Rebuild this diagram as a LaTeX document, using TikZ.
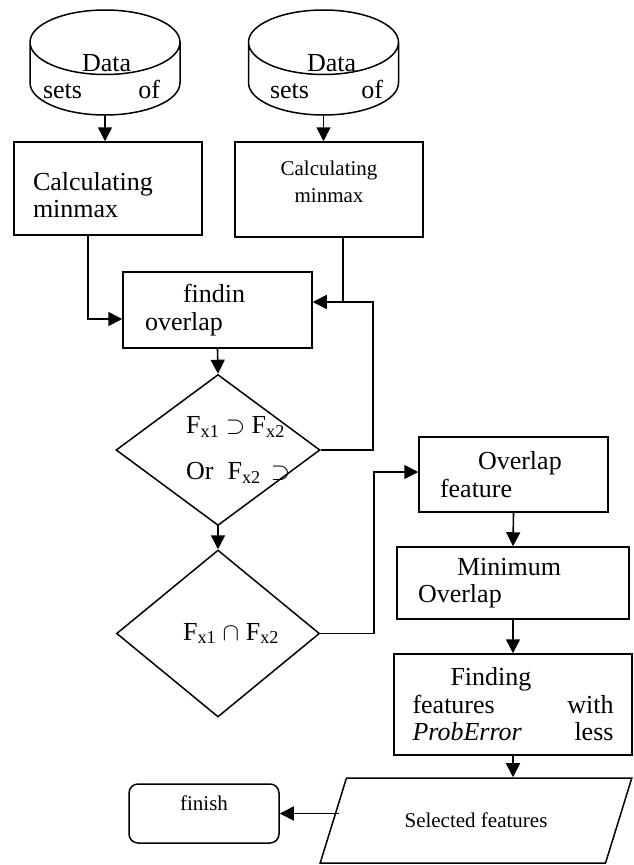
\documentclass[tikz,border=0pt]{standalone}
\usepackage{fontspec}
\setmainfont{Liberation Serif}
\usetikzlibrary{arrows.meta, positioning, shapes.geometric, calc}
\newcommand{\bigtxt}{\fontsize{26}{27.5}\selectfont}
\newcommand{\smalltxt}{\fontsize{21}{27}\selectfont}
\tikzset{
    box/.style={
        draw,
        line width=1.5pt,
        minimum width=188pt,
        minimum height=93pt,
        inner sep=0pt,
        font=\bigtxt
    },
    datastore/.style={
        cylinder,
        shape border rotate=90,
        draw,
        line width=1.5pt,
        aspect=0.43,
        minimum height=105pt,
        minimum width=150pt,
        inner xsep=75pt,
        inner ysep=0pt,
        anchor=shape center
    },
    decision/.style={diamond, draw, line width=1.5pt, inner sep=0pt},
    io/.style={trapezium, trapezium left angle=46, trapezium right angle=134, trapezium stretches=true, draw, line width=1.5pt, minimum width=312pt, minimum height=85pt, inner sep=0pt, font=\smalltxt},
    term/.style={draw, rounded corners=9pt, line width=1.5pt, minimum width=150pt, minimum height=59pt, inner sep=0pt, font=\smalltxt},
    lbl/.style={inner sep=0pt, font=\bigtxt, align=left},
    line/.style={-{Triangle[length=14pt, width=14pt]}, line width=1.6pt},
    link/.style={line width=1.6pt}
}
\begin{document}
\begin{tikzpicture}[x=1pt, y=-1pt]
\useasboundingbox (0,0) rectangle (633,865);

\node[datastore] (ds1) at (105,62.5) {};
\node[datastore] (ds2) at (323.5,62.5) {};
\node[lbl, text width=117pt] (ds1txt) at (101.5,76.7) {\hspace*{39pt}Data\\sets\hfill of};
\node[lbl, text width=113pt] (ds2txt) at (326.5,76.7) {\hspace*{37pt}Data\\sets\hfill of};

\node[box, text width=150pt, align=left, text depth=15pt] (calc1) at (108,188.5) {Calculating\\minmax};
\node[box, font=\smalltxt, align=center, minimum height=95pt, text depth=16pt] (calc2) at (329,189.5) {Calculating\\minmax};

\draw[line] (ds1.south) -- (ds1.south |- calc1.north);
\draw[line] (ds2.south) -- (ds2.south |- calc2.north);

\node[box, minimum width=189pt, minimum height=76pt, text width=145pt, align=left] (find) at (217.5,310) {\hspace*{38pt}findin\\overlap};

\draw[line] ([xshift=-20pt]calc1.south) |- ([yshift=-9pt]find.west);
\coordinate (junc) at (343,302);
\draw[line] (calc2.south -| junc) -- (junc) -- (junc -| find.east);

% checks
\node[decision, minimum width=204pt, minimum height=151pt] (chk1) at (218,450) {};
\node[lbl, anchor=west] (chk1txt) at (186,450) {F\textsubscript{x1} $\supset$ F\textsubscript{x2}\\[18pt]Or\hspace{14pt}F\textsubscript{x2}\hspace{10pt}$\supset$};
\node[decision, minimum width=203pt, minimum height=167pt] (chk2) at (218,633.5) {};
\node[lbl] (chk2txt) at (231,633.5) {F\textsubscript{x1} $\cap$ F\textsubscript{x2}};

\draw[line] (find.south) -- (chk1.north);
\draw[line] (chk1.south) -- (chk2.north);
\coordinate (loop) at (373,302);
\draw[link] (chk1.east) -| (loop) -- (junc);

\node[box, minimum width=189pt, minimum height=75pt, text width=147pt, align=left] (ovf) at (513.5,474.5) {\hspace*{38pt}Overlap\\feature};
\node[box, minimum width=232pt, minimum height=72pt, text width=190pt, align=left] (minov) at (513,583) {\hspace*{39pt}Minimum\\Overlap};
\node[box, minimum width=238pt, minimum height=101pt, text width=201pt, align=left] (findf) at (513,704.5) {\hspace*{38pt}Finding\\features\hfill with\\\textit{ProbError}\hfill less};

\draw[line] (chk2.east) -- ++(54,0) |- ([yshift=2.5pt]ovf.west);
\draw[line] (ovf.south) -- (minov.north);
\draw[line] (minov.south) -- (findf.north);

\node[io] (sel) at (476,820.5) {Selected features};
\node[term, text height=14pt, text depth=21pt] (fin) at (204,813.5) {finish};

\draw[line] (findf.south) -- (findf.south |- sel.north);
\draw[line] ([xshift=6pt]sel.west |- fin.east) -- (fin.east);
\end{tikzpicture}
\end{document}
